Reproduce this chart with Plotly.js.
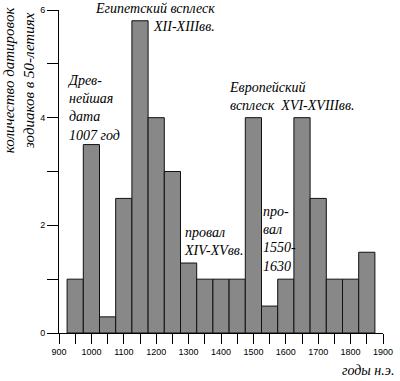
<!DOCTYPE html>
<html><head><meta charset="utf-8">
<script src="https://cdn.plot.ly/plotly-3.0.1.min.js"></script>
<style>html,body{margin:0;padding:0;background:#fff}#chart{width:400px;height:381px}</style>
</head><body><div id="chart"></div>
<script>
const periodCenters = [950,1000,1050,1100,1150,1200,1250,1300,1350,1400,1450,1500,1550,1600,1650,1700,1750,1800,1850];
const datingCounts  = [1,3.5,0.3,2.5,5.8,4,3,1.3,1,1,1,4,0.5,1,4,2.5,1,1,1.5];
const xTickVals = [900,1000,1100,1200,1300,1400,1500,1600,1700,1800,1900];
const yTickVals = [0,2,4,6];
const yTitleLines = ['количество датировок','зодиаков в 50-летиях'];
const xTitleText = 'годы н.э.';
const notes = [
  {text:'Древ-<br>нейшая<br>дата<br>1007 год', xref:'x', yref:'y', x:921, y:4.85, xanchor:'left', yanchor:'top', align:'left'},
  {text:'Египетский всплеск<br>XII-XIIIвв.', xref:'x', yref:'paper', x:1384, y:1.03, xanchor:'right', yanchor:'top', align:'right'},
  {text:'Европейский<br>всплеск  XVI-XVIIIвв.', xref:'x', yref:'y', x:1421, y:4.72, xanchor:'left', yanchor:'top', align:'left'},
  {text:'провал<br>XIV-XVвв.', xref:'x', yref:'y', x:1282, y:2.02, xanchor:'left', yanchor:'top', align:'left'},
  {text:'про-<br>вал<br>1550-<br>1630', xref:'x', yref:'y', x:1527, y:2.42, xanchor:'left', yanchor:'top', align:'left'}
];
const serif = {family:'Liberation Serif, DejaVu Serif, serif', size:14, color:'#000'};
const trace = {
  type:'bar', x:periodCenters, y:datingCounts, width:50,
  marker:{color:'#8a8a8a', line:{color:'#111', width:1},
    pattern:{shape:'.', size:2, solidity:0.5, fgcolor:'#3c3c3c', bgcolor:'#c4c4c4', fillmode:'replace'}},
  hoverinfo:'skip'
};
const annotations = notes.map(n => Object.assign({showarrow:false,
  font:Object.assign({}, serif), borderpad:0}, n, {text:'<i>'+n.text+'</i>'}));
annotations.push({xref:'paper', yref:'y', x:-0.123, y:4.7, textangle:-90, showarrow:false,
  text:'<i>'+yTitleLines.join('<br>')+'</i>', font:Object.assign({}, serif, {size:15}), xanchor:'center', yanchor:'middle'});
annotations.push({xref:'paper', yref:'paper', x:1.04, y:-0.115, xanchor:'right', yanchor:'middle', showarrow:false,
  text:'<i>'+xTitleText+'</i>', font:Object.assign({}, serif, {size:14})});
const layout = {
  width:400, height:381, margin:{l:59, r:17, t:10, b:48},
  paper_bgcolor:'#fff', plot_bgcolor:'#fff', showlegend:false, bargap:0,
  font:{family:'Liberation Sans, Arial, sans-serif', size:9, color:'#000'},
  xaxis:{range:[900,1900], tickvals:xTickVals, ticktext:xTickVals.map(String), ticks:'outside', ticklen:10,
    tickcolor:'#000', tickwidth:1, showline:true, linecolor:'#000', linewidth:1, showgrid:false, zeroline:false,
    minor:{dtick:50, tick0:900, ticks:'outside', ticklen:10, tickcolor:'#000', tickwidth:1, showgrid:false},
    tickfont:{size:9, color:'#000'}},
  yaxis:{range:[0,6], tickvals:yTickVals, ticktext:yTickVals.map(String), ticks:'outside', ticklen:11,
    tickcolor:'#000', tickwidth:1, showline:true, linecolor:'#000', linewidth:1, showgrid:false, zeroline:false,
    minor:{dtick:1, tick0:0, ticks:'outside', ticklen:11, tickcolor:'#000', tickwidth:1, showgrid:false},
    tickfont:{size:9, color:'#000'}},
  annotations:annotations
};
Plotly.newPlot('chart', [trace], layout, {displayModeBar:false, staticPlot:true});
</script></body></html>
